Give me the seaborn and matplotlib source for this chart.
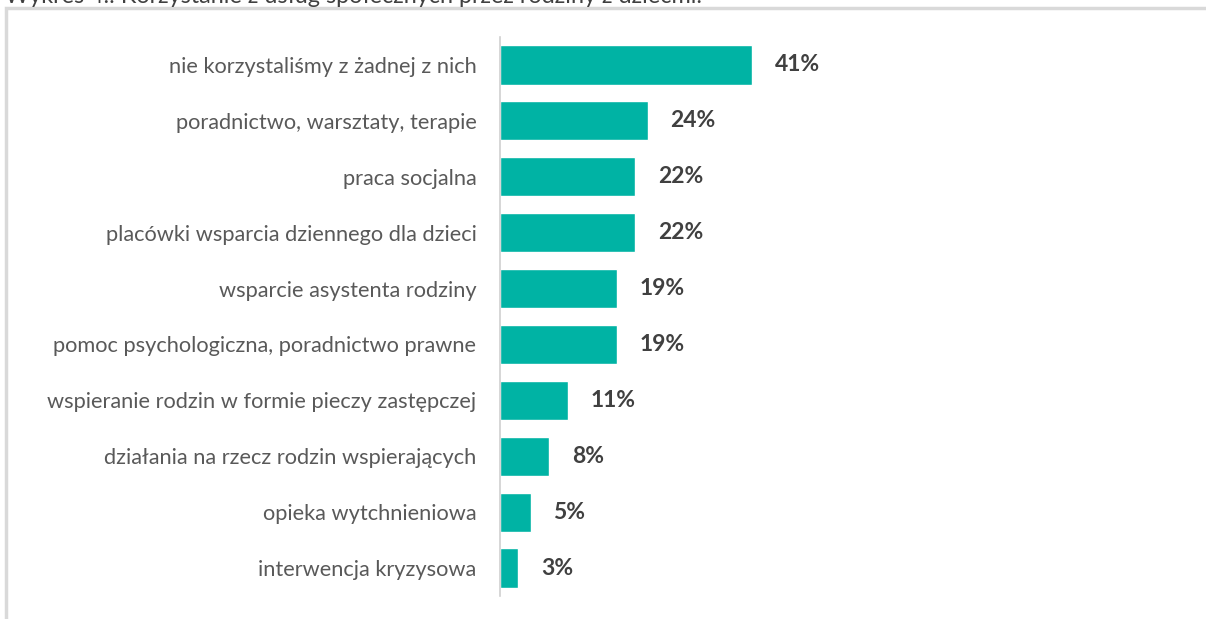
import seaborn as sns
import matplotlib.pyplot as plt
import pandas as pd
from matplotlib.patches import Rectangle

# Data
categories = [
    "nie korzystaliśmy z żadnej z nich",
    "poradnictwo, warsztaty, terapie",
    "praca socjalna",
    "placówki wsparcia dziennego dla dzieci",
    "wsparcie asystenta rodziny",
    "pomoc psychologiczna, poradnictwo prawne",
    "wspieranie rodzin w formie pieczy zastępczej",
    "działania na rzecz rodzin wspierających",
    "opieka wytchnieniowa",
    "interwencja kryzysowa",
]
values = [41, 24, 22, 22, 19, 19, 11, 8, 5, 3]
title = "Wykres 4.: Korzystanie z usług społecznych przez rodziny z dziećmi."

df = pd.DataFrame({"kategoria": categories, "procent": values})

sns.set_style("white")
plt.rcParams['font.family'] = ['Lato', 'DejaVu Sans']

fig = plt.figure(figsize=(12.06, 6.19), dpi=100)
W, H = 1206, 619

# frame around the chart area (left and top edges visible)
fig.patches.append(Rectangle((6 / W, -0.1), (W + 20) / W, 1.1 - 8 / H,
                             transform=fig.transFigure, fill=False,
                             edgecolor='#d9d9d9', linewidth=2.5))
# title, cut at the top like in the source
fig.text(5 / W, 1.0 - 3 / H, title, ha='left', va='baseline', fontsize=16.8,
         color='#404040')

ax = fig.add_axes([500 / W, 1 - 596 / H, 615 / W, (596 - 37) / H])
sns.barplot(data=df, x="procent", y="kategoria", orient="h", color="#00b3a4",
            saturation=1, width=0.7, ax=ax)
ax.set_xlim(0, 100)
ax.set_ylim(len(categories) - 0.5, -0.5)

for i, v in enumerate(values):
    ax.text(v + 3.7, i, f"{v}%", va='center', ha='left', fontsize=16.5,
            fontweight='bold', color='#404040')

ax.set_xlabel("")
ax.set_ylabel("")
ax.set_xticks([])
ax.tick_params(axis='y', which='major', length=0, pad=17, labelsize=15.7,
               labelcolor='#595959')
ax.set_yticks([i + 0.5 for i in range(-1, len(categories))], minor=True)
ax.tick_params(axis='y', which='minor', length=6, color='#d0d0d0', width=1.2)

for s in ['top', 'right', 'bottom']:
    ax.spines[s].set_visible(False)
ax.spines['left'].set_color('#d0d0d0')
ax.spines['left'].set_linewidth(1.2)

fig.savefig("out.png", dpi=100)
